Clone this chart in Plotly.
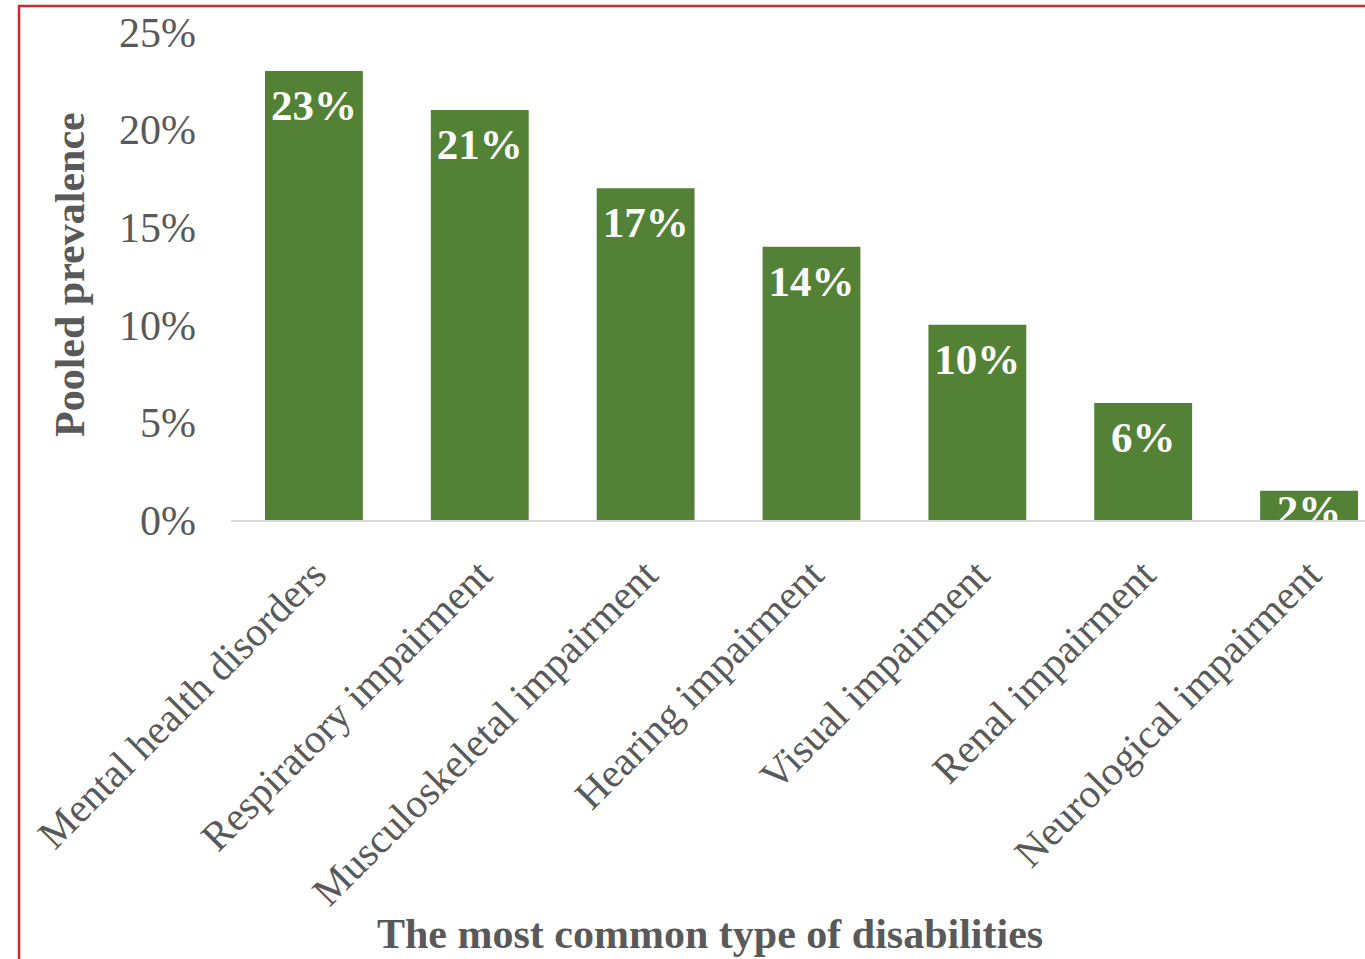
import plotly.graph_objects as go

categories = ["Mental health disorders", "Respiratory impairment", "Musculoskeletal impairment",
              "Hearing impairment", "Visual impairment", "Renal impairment", "Neurological impairment"]
values = [23, 21, 17, 14, 10, 6, 1.5]
bar_labels = ["23%", "21%", "17%", "14%", "10%", "6%", "2%"]
y_ticks = [0, 5, 10, 15, 20, 25]
y_tick_labels = ["0%", "5%", "10%", "15%", "20%", "25%"]

FONT = "Liberation Serif"
GRAY = "#595959"

W, H = 1365, 959
ml, mr, mt, mb = 231, 0, 32, 439
pw, ph = W - ml - mr, H - mt - mb
Y_MAX = 25
px_per_unit = ph / Y_MAX

def px_to_paper_x(px):
    return (px - ml) / pw

def px_to_paper_y(py):
    return (H - mb - py) / ph

# label padding below each bar top (pixels): smaller when the bar is too short for the text
label_pad_px = [17 if v * px_per_unit > 50 else 2 for v in values]
label_y = [v - p / px_per_unit for v, p in zip(values, label_pad_px)]

fig = go.Figure()
fig.add_trace(go.Bar(
    x=categories, y=values,
    marker=dict(color="#538135", line=dict(width=0)),
    hoverinfo="skip",
))
fig.add_trace(go.Scatter(
    x=categories, y=label_y, text=bar_labels, mode="text",
    textposition="bottom center",
    textfont=dict(family=FONT, size=43, color="white", weight="bold"),
    cliponaxis=True, hoverinfo="skip",
))

fig.update_layout(
    width=W, height=H,
    margin=dict(l=ml, r=mr, t=mt, b=mb),
    plot_bgcolor="white", paper_bgcolor="white",
    bargap=0.41,
    showlegend=False,
    xaxis=dict(
        range=[-0.5, 6.5 - 27 / 166],
        tickangle=-45,
        tickfont=dict(family=FONT, size=41, color=GRAY),
        showline=True, linecolor="#d9d9d9", linewidth=2,
        showgrid=False, ticks="", ticklabelstandoff=12,
    ),
    yaxis=dict(
        range=[0, Y_MAX],
        tickvals=y_ticks, ticktext=y_tick_labels,
        tickfont=dict(family=FONT, size=42, color=GRAY),
        showgrid=False, zeroline=False, showline=False,
        ticks="", ticklabelstandoff=34,
    ),
    annotations=[
        dict(text="<b>Pooled prevalence</b>", textangle=-90,
             xref="paper", yref="paper", x=px_to_paper_x(70), y=px_to_paper_y(275),
             xanchor="center", yanchor="middle", showarrow=False,
             font=dict(family=FONT, size=42, color=GRAY)),
        dict(text="<b>The most common type of disabilities</b>",
             xref="paper", yref="paper", x=px_to_paper_x(710), y=px_to_paper_y(934),
             xanchor="center", yanchor="middle", showarrow=False,
             font=dict(family=FONT, size=42, color=GRAY)),
    ],
    shapes=[
        dict(type="rect", xref="paper", yref="paper",
             x0=px_to_paper_x(19), x1=px_to_paper_x(1400),
             y0=px_to_paper_y(1000), y1=px_to_paper_y(6),
             line=dict(color="#d0282c", width=2.5), fillcolor="rgba(0,0,0,0)", layer="above"),
    ],
)

fig.write_html("out.html", config={"displayModeBar": False},
               post_script="document.body.style.margin='0px';document.body.style.overflow='hidden';")
